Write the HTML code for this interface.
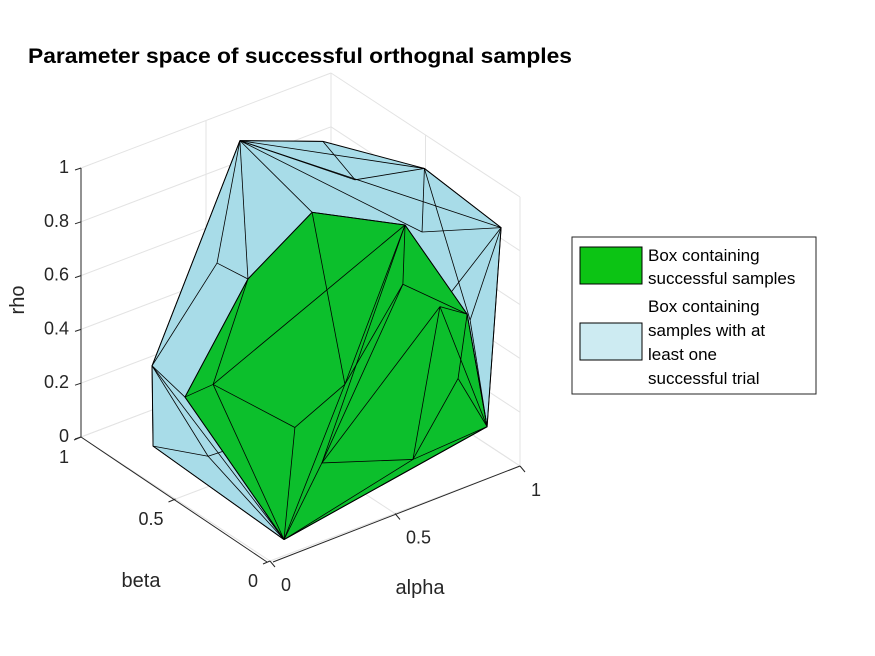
<!DOCTYPE html>
<html><head><meta charset="utf-8"><style>
body{margin:0;background:#fff;}
svg{display:block;font-family:"Liberation Sans",Arial,sans-serif;}
</style></head><body>
<svg id="chart" width="875" height="656" viewBox="0 0 875 656">
<rect width="875" height="656" fill="#fff"/>
<text x="28" y="63" font-size="21" font-weight="bold" fill="#000" textLength="544" lengthAdjust="spacingAndGlyphs">Parameter space of successful orthognal samples</text>
<g id="grid"></g><g id="axes"></g><g id="blue"></g><g id="green"></g>
<text x="24" y="300" font-size="20" fill="#262626" transform="rotate(-90 24 300)" text-anchor="middle">rho</text>
<text x="141" y="587" font-size="20" fill="#262626" text-anchor="middle">beta</text>
<text x="420" y="594" font-size="20" fill="#262626" text-anchor="middle">alpha</text>
<g>
<rect x="572" y="237" width="244" height="157" fill="#fff" stroke="#262626" stroke-width="1"/>
<rect x="580" y="247" width="62" height="37" fill="#0cc414" stroke="#000" stroke-width="1"/>
<rect x="580" y="323" width="62" height="37" fill="#cdebf2" stroke="#000" stroke-width="1"/>
<g font-size="17" fill="#000">
<text x="648" y="261"><tspan x="648" y="261">Box containing</tspan><tspan x="648" y="284">successful samples</tspan></text>
<text x="648" y="312"><tspan x="648" y="312">Box containing</tspan><tspan x="648" y="336">samples with at</tspan><tspan x="648" y="360">least one</tspan><tspan x="648" y="384">successful trial</tspan></text>
</g></g>
</svg>
<script>
const alphaV=[0.56,0.892,0.92,1.0,0.944,0.056,0.137,0.133,0.393,0.794,0.835,0.206,0.876,0.622,0.767,0.902,0.189,0.441,0.226,0.402,0.602,0.834,0.831,0.723,0.51,0.828];
const betaV=[0.9,0.9,0.4,0.1,0.1,0.0,0.8,0.8,0.8,0.6,0.3,0.6,0.1,0.6,0.3,0.15,0.7,0.7,0.6,0.4,0.4,0.4,0.2,0.2,0.4,0.1];
const rhoV=[0.95,0.83,0.95,0.84,0.12,0.06,0.01,0.31,0.60,0.86,0.79,0.04,0.54,0.80,0.84,0.53,0.22,0.57,0.30,0.17,0.26,0.55,0.56,0.03,0.0,0.34];
const blueHull=[0,1,2,3,4,5,6,7];
const blueEdges=[[0,1],[0,2],[0,9],[0,10],[0,3],[0,7],[0,8],[0,17],[0,13],[1,9],[2,9],[2,3],[2,10],[2,12],[3,10],[3,12],[3,4],[3,22],[7,8],[8,17],[7,6],[7,11],[7,16],[7,5],[6,11],[6,5],[11,5],[11,19],[12,4]];
const greenHull=[13,14,15,4,5,16,17];
const greenEdges=[[13,14],[14,15],[15,4],[4,5],[5,16],[16,17],[17,13],[16,18],[18,17],[18,19],[18,5],[19,20],[19,5],[20,14],[20,13],[20,21],[20,5],[21,14],[21,15],[21,24],[22,15],[22,23],[22,4],[22,24],[25,15],[25,23],[25,4],[24,23],[24,5],[23,4],[23,5],[14,18],[14,24]];
const zTicks=[0,0.2,0.4,0.6,0.8,1];
const zTickLabels=["0","0.2","0.4","0.6","0.8","1"];
const abTicks=[0,0.5,1];
const abTickLabels=["0","0.5","1"];
function P(a,b,r){return [270+250*a-189*b, 561-95*a-124*b-269*r];}
const NS="http://www.w3.org/2000/svg";
function mk(par,tag,attrs){const e=document.createElementNS(NS,tag);for(const k in attrs)e.setAttribute(k,attrs[k]);document.getElementById(par).appendChild(e);return e;}
function line(par,p,q,st,w){return mk(par,'line',{x1:p[0],y1:p[1],x2:q[0],y2:q[1],stroke:st,'stroke-width':w});}
zTicks.forEach(r=>{
 let e=line('grid',P(0,1,r),P(1,1,r),'#e3e3e3',1);
 
 
 e=line('grid',P(1,1,r),P(1,0,r),'#e3e3e3',1);
 
 
});
abTicks.forEach(t=>{
 let e=line('grid',P(t,1,0),P(t,1,1),'#e3e3e3',1);
 
 
 e=line('grid',P(t,0,0),P(t,1,0),'#e3e3e3',1);
 
 
 e=line('grid',P(1,t,0),P(1,t,1),'#e3e3e3',1);
 
 
 e=line('grid',P(0,t,0),P(1,t,0),'#e3e3e3',1);
 
 
});
let ax=line('axes',P(0,1,0),P(0,1,1),'#262626',1);


ax=line('axes',[P(0,0,0)[0]-3,P(0,0,0)[1]+1],P(0,1,0),'#262626',1);


ax=line('axes',[P(0,0,0)[0]+3,P(0,0,0)[1]+1],P(1,0,0),'#262626',1);


zTicks.forEach((r,i)=>{
 const p=P(0,1,r);
 line('axes',p,[p[0]-6,p[1]+2],'#262626',1);
 const t=mk('axes','text',{x:p[0]-12,y:p[1]+5,'font-size':18,fill:'#262626','text-anchor':'end'});
 t.textContent=zTickLabels[i];
 
 
});
abTicks.forEach((v,i)=>{
 const p=P(0,v,0);
 line('axes',p,[p[0]-7,p[1]+3],'#262626',1);
 let t=mk('axes','text',{x:p[0]-12,y:p[1]+26,'font-size':18,fill:'#262626','text-anchor':'end'});
 t.textContent=abTickLabels[i];
 
 
 const q=P(v,0,0);
 line('axes',q,[q[0]+5,q[1]+6],'#262626',1);
 t=mk('axes','text',{x:q[0]+11,y:q[1]+30,'font-size':18,fill:'#262626'});
 t.textContent=abTickLabels[i];
 
 
});
function poly(par,idx,fill,name){
 const pts=idx.map(i=>P(alphaV[i],betaV[i],rhoV[i]).join(',')).join(' ');
 const e=mk(par,'polygon',{points:pts,fill:fill,stroke:'#000','stroke-width':1,'stroke-linejoin':'round'});
 
 
}
function edges(par,list,name){
 list.forEach(([i,j])=>{
  const e=line(par,P(alphaV[i],betaV[i],rhoV[i]),P(alphaV[j],betaV[j],rhoV[j]),'#000',0.8);
  
  
 });
}
poly('blue',blueHull,'#a8dce8','blue-hull');
edges('blue',blueEdges,'blue-hull-edge');
poly('green',greenHull,'#0cbf2c','green-hull');
edges('green',greenEdges,'green-hull-edge');
</script>
</body></html>
